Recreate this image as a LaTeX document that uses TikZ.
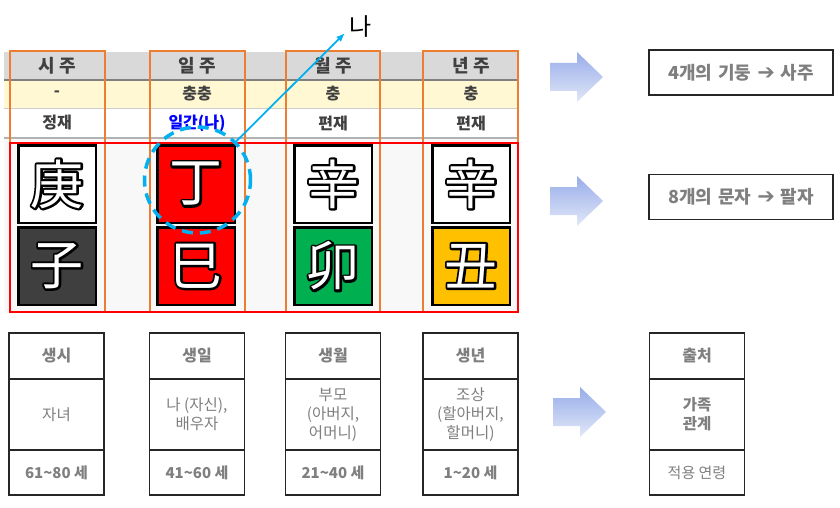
\documentclass[tikz,border=0pt]{standalone}
\usepackage{fontspec}
\setmainfont{Noto Sans CJK KR}
\newfontfamily\symfont{DejaVu Sans}
\usetikzlibrary{arrows.meta,positioning,calc}
\definecolor{cHead}{HTML}{D9D9D9}
\definecolor{cYel}{HTML}{FFF8D2}
\definecolor{cRow}{HTML}{F8F8F8}
\definecolor{cOrange}{HTML}{ED7D31}
\definecolor{cSky}{HTML}{00B0F0}
\definecolor{cTxt}{HTML}{404040}
\definecolor{cGray}{HTML}{7F7F7F}
\definecolor{cLine}{HTML}{262626}
\definecolor{cTileDk}{HTML}{3F3F3F}
\definecolor{cGreen}{HTML}{00B050}
\definecolor{cGold}{HTML}{FFC000}
\definecolor{cBlue}{HTML}{0000FF}
\definecolor{cArrTop}{HTML}{97ACE9}
\definecolor{cArrBot}{HTML}{E2E8F8}
\newcommand\stroked[1]{\special{pdf:literal direct 1 Tr 4.4 w 1 j 0 0 0 RG}#1\special{pdf:literal direct 0 Tr}}

\begin{document}
\begin{tikzpicture}[x=1pt, y=-1pt,
    hd/.style={font=\fontsize{18}{20}\selectfont\bfseries, text=cTxt},
    cell/.style={font=\fontsize{16}{18}\selectfont\bfseries, text=cTxt},
    tile/.style={draw=black, line width=2.5pt, minimum size=77.5pt, inner sep=0pt},
    han/.style={font=\fontsize{53}{53}\selectfont, inner sep=0pt},
    pillar/.style={draw=cOrange, line width=2.5pt},
    box/.style={draw=cLine, line width=1.4pt, minimum width=95pt, inner sep=1pt, outer sep=0pt, align=center, text=cGray},
    note/.style={draw=cLine, line width=1.4pt, minimum width=184pt, minimum height=45pt, font=\fontsize{18}{20}\selectfont\bfseries, text=cGray},
    blk/.style={top color=cArrTop, bottom color=cArrBot},
    ptr/.style={-{Latex[length=9pt,width=7pt]}, draw=cSky, line width=1.8pt}
]
\useasboundingbox (0,0) rectangle (840,508);

\fill[cHead] (4,52) rectangle (518,80);
\fill[cYel] (4,80) rectangle (518,108);
\fill[white] (4,108) rectangle (518,137);
\fill[cRow] (4,139) rectangle (518,312);
\draw[black!50, line width=1.2pt] (4,80) -- (518,80);
\draw[black!20] (4,108) -- (518,108);
\draw[black!30, line width=2pt] (4,138) -- (518,138);

\foreach \n/\x/\h/\r/\s in {si/57/시 주/-/정재, il/197/일 주/충충/{\textcolor{cBlue}{일간(나)}}, wol/333/월 주/충/편재, nyeon/471/년 주/충/편재} {
  \node[hd] (\n-h) at (\x,66) {\h};
  \node[cell] (\n-r) at (\x,94) {\r};
  \node[cell] (\n-s) at (\x,123) {\s};
}

\foreach \n/\x/\y/\hz/\f in {t1/57/184/庚/white, t2/57/266/子/cTileDk, t3/196/184/丁/red, t4/196/266/巳/red, t5/333/184/辛/white, t6/333/266/卯/cGreen, t7/471/184/辛/white, t8/471/266/丑/cGold} {
  \node[tile, fill=\f] (\n) at (\x,\y) {};
  \node[han, text=black] (\n-o) at (\n) {\stroked{\hz}};
  \node[han, text=white] (\n-c) at (\n) {\hz};
}

\draw[pillar] (10,51) rectangle (105,312);
\draw[pillar] (150,51) rectangle (245,312);
\draw[pillar] (286,51) rectangle (380,312);
\draw[pillar] (423,51) rectangle (518,312);
\draw[red, line width=2.5pt] (10,143) rectangle (518,312);

\node[circle, draw=cSky, line width=3.5pt, dash pattern=on 11pt off 7pt, minimum size=106pt] (ilgan) at (197.5,180) {};
\node[font=\fontsize{24}{24}\selectfont, inner sep=0pt] (na) at (361,27) {나};
\coordinate (natip) at (345,33);
\draw[ptr] (ilgan.45) -- (natip);

\foreach \n/\x/\t/\m/\g/\mf/\af in {
  b1/56.5/생시/자녀/61\textasciitilde80 세/\mdseries/\bfseries,
  b2/197/생일/{나 (자신),\\배우자}/41\textasciitilde60 세/\mdseries/\bfseries,
  b3/333/생월/{부모\\(아버지,\\어머니)}/21\textasciitilde40 세/\mdseries/\bfseries,
  b4/470.5/생년/{조상\\(할아버지,\\할머니)}/1\textasciitilde20 세/\mdseries/\bfseries,
  b5/697/출처/{가족\\관계}/적용 연령/\bfseries/\mdseries} {
  \node[box, minimum height=46pt, font=\fontsize{16}{18}\selectfont\bfseries] (\n-t) at (\x,356) {\t};
  \node[box, minimum height=71pt, font=\fontsize{15.5}{19}\selectfont\mf, below=0pt of \n-t] (\n-m) {\m};
  \node[box, minimum height=45pt, font=\fontsize{15}{17}\selectfont\af, below=0pt of \n-m] (\n-a) {\g};
}

\foreach \x/\y in {550/77, 550/201, 553/412}
  \shade[blk] (\x,\y-14) -- (\x+27,\y-14) -- (\x+27,\y-25) -- (\x+53,\y) -- (\x+27,\y+25) -- (\x+27,\y+14) -- (\x,\y+14) -- cycle;

\node[note] (pillars) at (741,72.5) {4개의\,\,기둥\,\,{\symfont\mdseries\fontsize{21}{20}\selectfont ➔}\,\,사주};
\node[note] (letters) at (741,197) {8개의\,\,문자\,\,{\symfont\mdseries\fontsize{21}{20}\selectfont ➔}\,\,팔자};
\end{tikzpicture}
\end{document}
